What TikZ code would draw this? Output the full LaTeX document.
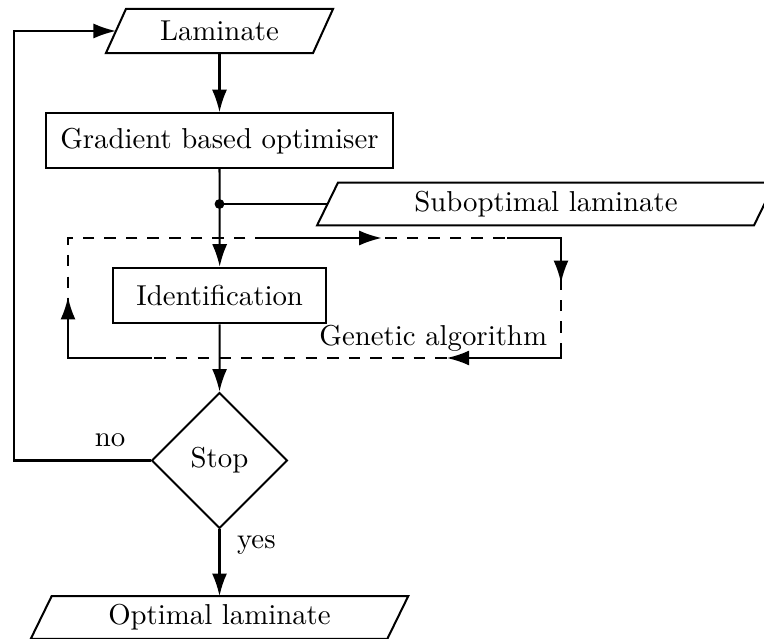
\documentclass[tikz,border=0pt]{standalone}
\usetikzlibrary{arrows.meta,shapes.geometric,calc}
\newcommand\drawpara[2]{\draw ($(#1.south west)+(-#2,0)$) -- ($(#1.north west)+(#2,0)$) -- ($(#1.north east)+(#2,0)$) -- ($(#1.south east)+(-#2,0)$) -- cycle;}
\begin{document}
\begin{tikzpicture}[x=0.3472pt,y=-0.3472pt,
  line width=0.7pt,
  arr/.style={-{Latex[length=7.8pt,width=5.2pt]}},
  box/.style={draw, rectangle, inner sep=0pt},
  io/.style={rectangle, inner sep=0pt},
  dec/.style={draw, diamond, aspect=1, inner sep=0pt, minimum width=47.2pt, minimum height=47.2pt},
  lbl/.style={inner sep=0pt, anchor=base},
  gabox/.style={draw, dash pattern=on 4pt off 3.5pt, rectangle, inner sep=0pt}]
\useasboundingbox (0,0) rectangle (764,639);

% nodes
\node[io, minimum width=71.2pt, minimum height=14.6pt] (lam) at (219.5,31) {Laminate};
\drawpara{lam}{10}
\node[box, minimum width=120.8pt, minimum height=19.1pt] (grad) at (219.5,140.7) {Gradient based optimiser};
\coordinate (dot) at (219.5,204);
\node[io, minimum width=151pt, minimum height=14.2pt] (sub) at (546,204) {Suboptimal laminate};
\drawpara{sub}{10.5}
\node[gabox, minimum width=171.2pt, minimum height=41.7pt] (ga) at (314.5,298) {};
\node[lbl, anchor=base east] (gatext) at (548,345) {Genetic algorithm};
\node[box, minimum width=74pt, minimum height=19.3pt, fill=white] (ident) at (219.7,295.5) {Identification};
\node[dec] (stop) at (219.5,460.5) {Stop};
\node[io, minimum width=123.1pt, minimum height=14.2pt] (opt) at (219.5,617.5) {Optimal laminate};
\drawpara{opt}{10.5}
\node[lbl] (no) at (110,446.7) {no};
\node[lbl] (yes) at (256.3,548) {yes};

% cycle arrows on the genetic algorithm box
\coordinate (c1a) at (260,238);
\coordinate (c1b) at (381.7,238);
\coordinate (c2a) at (507,238);
\coordinate (c2b) at (561,283);
\coordinate (c3a) at (561,347);
\coordinate (c3b) at (446.7,358);
\coordinate (c4a) at (152,358);
\coordinate (c4b) at (68,297);
\draw[arr] (c1a) -- (c1b);
\draw[arr] (c2a) -| (c2b);
\draw[arr] (c3a) |- (c3b);
\draw[arr] (c4a) -| (c4b);

% connectors
\draw[arr] (lam.south) -- (grad.north);
\draw[arr] (grad.south) -- (ident.north);
\fill (dot) circle[radius=1.7pt];
\draw (dot) -- (sub.west);
\draw[arr] (ident.south) -- (stop.north);
\draw[arr] (stop.south) -- (opt.north);
\coordinate (fb) at (14,31);
\draw[arr] (stop.west) -| (fb) -- (lam.west);
\end{tikzpicture}
\end{document}
